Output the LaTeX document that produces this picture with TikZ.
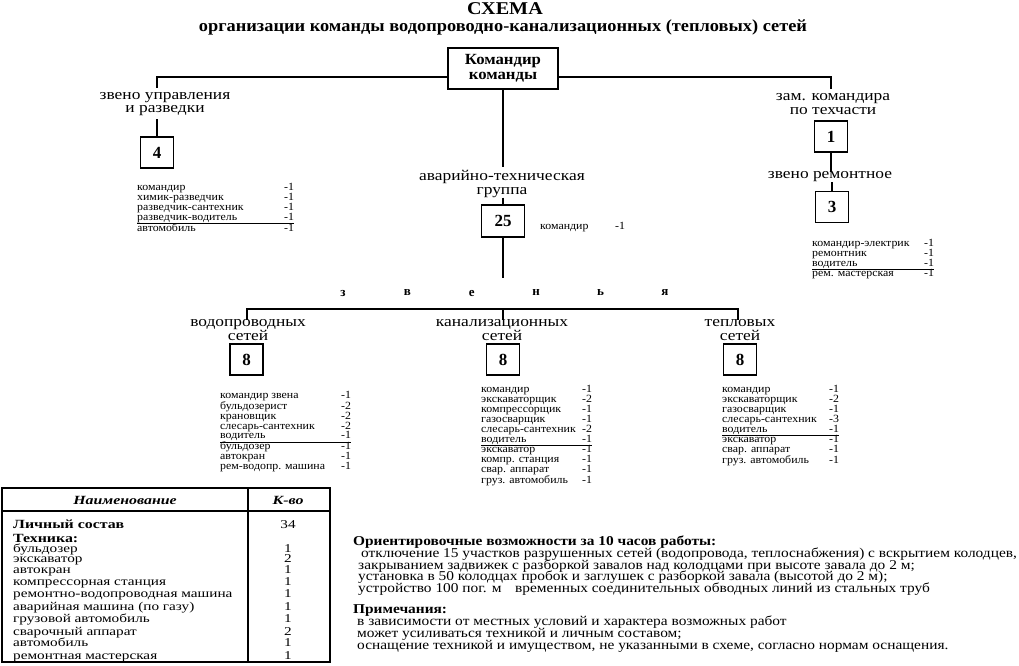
\documentclass[tikz,border=0pt]{standalone}
\usepackage{fontspec}
\setmainfont{Liberation Serif}
\newfontfamily\myLstFont[FakeStretch=1.08]{Liberation Serif}
\newfontfamily\myLblFont[FakeStretch=1.16]{Liberation Serif}
\newfontfamily\myTabFont[FakeStretch=1.27]{Liberation Serif}
\newfontfamily\myNoteFont[FakeStretch=1.14]{Liberation Serif}
\newfontfamily\mySubFont[FakeStretch=1.08]{Liberation Serif}
\newfontfamily\myTitleFont[FakeStretch=1.12]{Liberation Serif}
\usepackage{array}
\begin{document}
\begin{tikzpicture}[x=1pt,y=-1pt,
  conn/.style={line width=1.1pt},
  numbox/.style={draw,line width=1.3pt,inner sep=0pt,minimum width=33pt,minimum height=31pt,font=\fontsize{17}{17}\selectfont\bfseries},
  lbl/.style={inner sep=0pt,align=center,font=\myLblFont\fontsize{15}{13.5}\selectfont},
  lst/.style={inner sep=0pt,anchor=north west,font=\myLstFont\fontsize{11}{9}\selectfont},
  trow/.style={inner sep=0pt,anchor=base west,font=\myTabFont\fontsize{12}{12}\selectfont},
  tnum/.style={inner sep=0pt,anchor=base,font=\myTabFont\fontsize{12}{12}\selectfont},
  note/.style={inner sep=0pt,anchor=base west,font=\myNoteFont\fontsize{13.5}{13.5}\selectfont},
  zv/.style={inner sep=0pt,font=\fontsize{13}{13}\selectfont\bfseries}]
\useasboundingbox (0,0) rectangle (1019,665);
% title
\node[inner sep=0pt,font=\myTitleFont\fontsize{18}{18}\selectfont\bfseries] (title) at (505,8.5) {СХЕМА};
\node[inner sep=0pt,font=\mySubFont\fontsize{17}{17}\selectfont\bfseries] (sub) at (503,27) {организации команды водопроводно-канализационных (тепловых) сетей};
% commander
\node[draw,line width=1.3pt,minimum width=110pt,minimum height=41pt,inner sep=0pt,align=center,font=\mySubFont\fontsize{15.5}{14.5}\selectfont\bfseries] (cmd) at (503,68.5) {Командир\\команды};
\coordinate (hy) at (0,77);
\coordinate (tl) at (157,88);
\coordinate (tr) at (831,89);
\draw[conn] (cmd.west |- hy) -| (tl);
\draw[conn] (cmd.east |- hy) -| (tr);
% left unit
\node[lbl] (lzu) at (165,104) {звено управления\\и разведки};
\node[numbox] (b4) at (157,152.5) {4};
\draw[conn] (lzu.south -| b4) ++(0,3) -- (b4.north);
\node[lst] (l4) at (137,183) {\begin{tabular}{@{}p{147pt}@{}r@{}}командир & -1\\ химик-разведчик & -1\\ разведчик-сантехник & -1\\ разведчик-водитель & -1\\\hline автомобиль & -1\end{tabular}};
% right unit
\node[lbl] (lzk) at (833,104) {зам. командира\\по техчасти};
\node[numbox] (b1) at (831,136.5) {1};
\node[lbl] (lzr) at (830,177) {звено ремонтное};
\node[numbox] (b3) at (832,207) {3};
\draw[conn] (b1.south) -- (lzr.north -| b1);
\draw[conn] (lzr.south -| b3) -- (b3.north);
\node[lst] (l3) at (812,239) {\begin{tabular}{@{}p{112pt}@{}r@{}}командир-электрик & -1\\ ремонтник & -1\\ водитель & -1\\\hline рем. мастерская & -1\end{tabular}};
% middle group
\coordinate (m1) at (503,167);
\draw[conn] (cmd.south) -- (m1);
\node[lbl] (lag) at (502,184) {аварийно-техническая\\группа};
\node[numbox,minimum width=43pt,minimum height=32pt] (b25) at (503,221) {25};
\draw[conn] (lag.south -| b25) -- (b25.north);
\node[lst,anchor=west] (l25) at (540,227) {\begin{tabular}{@{}p{75pt}@{}r@{}}командир & -1\end{tabular}};
\coordinate (m2) at (503,278);
\draw[conn] (b25.south) -- (m2);
% zvenya
\foreach \ch [count=\i] in {з,в,е,н,ь,я}
  \node[zv] (z\i) at ({343+64.4*(\i-1)},293) {\ch};
\coordinate (by) at (0,309);
\coordinate (bw) at (247,320);
\coordinate (bk) at (503,320);
\coordinate (bt) at (738,320);
\draw[conn] (bw) |- (bt |- by) -- (bt);
\draw[conn] (bk |- by) -- (bk);
\node[lbl] (lw) at (248,330) {водопроводных\\сетей};
\node[lbl] (lk) at (502,330) {канализационных\\сетей};
\node[lbl] (lt) at (740,330) {тепловых\\сетей};
\node[numbox] (b8w) at (246.5,359.5) {8};
\node[numbox] (b8k) at (503,359.5) {8};
\node[numbox] (b8t) at (740,359.5) {8};
\node[lst] (lw8) at (220,391) {\begin{tabular}{@{}p{121pt}@{}r@{}}командир звена & -1\\ бульдозерист & -2\\ крановщик & -2\\ слесарь-сантехник & -2\\ водитель & -1\\\hline бульдозер & -1\\ автокран & -1\\ рем-водопр. машина & -1\end{tabular}};
\node[lst] (lk8) at (481,385) {\begin{tabular}{@{}p{101pt}@{}r@{}}командир & -1\\ экскаваторщик & -2\\ компрессорщик & -1\\ газосварщик & -1\\ слесарь-сантехник & -2\\ водитель & -1\\\hline экскаватор & -1\\ компр. станция & -1\\ свар. аппарат & -1\\ груз. автомобиль & -1\end{tabular}};
\node[lst] (lt8) at (722,385) {\begin{tabular}{@{}p{107pt}@{}r@{}}командир & -1\\ экскаваторщик & -2\\ газосварщик & -1\\ слесарь-сантехник & -3\\ водитель & -1\\\hline экскаватор & -1\\ свар. аппарат & -1\\ груз. автомобиль & -1\end{tabular}};
% table
\draw[line width=1.1pt] (2,488) rectangle (330,662);
\draw[line width=1.1pt] (248,488) -- (248,662);
\draw[line width=1.1pt] (2,511) -- (330,511);
\node[inner sep=0pt,font=\myTabFont\fontsize{12.5}{12.5}\selectfont\bfseries\itshape] (hn) at (125,500) {Наименование};
\node[inner sep=0pt,font=\myTabFont\fontsize{12.5}{12.5}\selectfont\bfseries\itshape] (hk) at (288,500) {К-во};
\node[trow,font=\myTabFont\fontsize{12.5}{12.5}\selectfont\bfseries] (r0) at (13,528.5) {Личный состав};
\node[tnum] (n0) at (288,528.5) {34};
\node[trow,font=\myTabFont\fontsize{12.5}{12.5}\selectfont\bfseries] (rt) at (13,542) {Техника:};
\foreach \t/\n/\y [count=\i] in {бульдозер/1/552, экскаватор/2/562.5, автокран/1/573.5, компрессорная станция/1/585.5, ремонтно-водопроводная машина/1/597.5, аварийная машина (по газу)/1/610.5, грузовой автомобиль/1/622.5, сварочный аппарат/2/635, автомобиль/1/646.5, ремонтная мастерская/1/659}{
  \node[trow] (r\i) at (13,\y) {\t};
  \node[tnum] (n\i) at (288,\y) {\n};
}
% notes
\node[note,font=\myNoteFont\fontsize{13.5}{13.5}\selectfont\bfseries] (h1) at (353,545) {Ориентировочные возможности за 10 часов работы:};
\node[note] (t1) at (361,557) {отключение 15 участков разрушенных сетей (водопровода, теплоснабжения) с вскрытием колодцев,};
\node[note] (t2) at (358,569) {закрыванием задвижек с разборкой завалов над колодцами при высоте завала до 2 м;};
\node[note] (t3) at (358,580.5) {установка в 50 колодцах пробок и заглушек с разборкой завала (высотой до 2 м);};
\node[note] (t4) at (358,592) {устройство 100 пог. м\quad временных соединительных обводных линий из стальных труб};
\node[note,font=\myNoteFont\fontsize{13.5}{13.5}\selectfont\bfseries] (h2) at (353,613) {Примечания:};
\node[note] (p1) at (357,625) {в зависимости от местных условий и характера возможных работ};
\node[note] (p2) at (357,637) {может усиливаться техникой и личным составом;};
\node[note] (p3) at (357,649) {оснащение техникой и имуществом, не указанными в схеме, согласно нормам оснащения.};
\end{tikzpicture}
\end{document}
